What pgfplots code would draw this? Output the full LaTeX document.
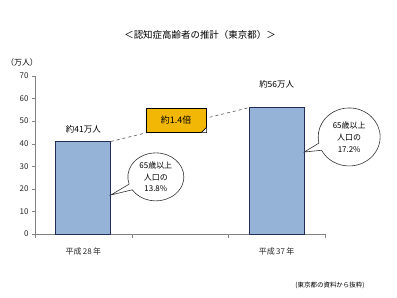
\documentclass[border=0pt]{standalone}
\usepackage{pgfplots}
\pgfplotsset{compat=1.18}
\usepackage{fontspec}
\setmainfont{Noto Sans CJK JP}
\usetikzlibrary{shapes.callouts,shapes.geometric}
\definecolor{barblue}{RGB}{149,179,215}
\definecolor{baredge}{RGB}{35,45,85}
\definecolor{gold}{RGB}{242,183,5}
\definecolor{axgray}{RGB}{130,130,130}
\begin{document}
\begin{tikzpicture}
\path[use as bounding box] (0,0) rectangle (397bp,298bp);
\begin{axis}[at={(35bp,64bp)}, anchor=south west, scale only axis,
  width=290bp, height=158bp,
  xmin=-0.5, xmax=2.5, ymin=0, ymax=70,
  axis x line=bottom, axis y line=left,
  axis line style={-, draw=axgray},
  tick align=outside,
  xtick={0,2}, xticklabels={平成\,28\,年,平成\,37\,年},
  minor xtick={-0.5,0.5,1.5,2.5},
  major x tick style={draw=none},
  minor x tick style={draw=axgray},
  minor tick length=4bp,
  ytick={0,10,...,70},
  major y tick style={draw=axgray},
  major tick length=3bp,
  /pgf/number format/assume math mode=true,
  ticklabel style={font=\fontsize{8}{9}\selectfont, text=black!85},
  xticklabel style={yshift=-7bp},
  clip=false]
\addplot[ybar, bar width=55bp, fill=barblue, draw=baredge, line width=0.7pt] coordinates {(0,41) (2,56)};
\addplot[dashed, draw=black!60, line width=0.7pt, mark=none] coordinates {(0.285,41) (1.715,56)};
\node[font=\fontsize{8.5}{10}\selectfont] at (axis cs:0,46.2) {約41万人};
\node[font=\fontsize{8.5}{10}\selectfont] at (axis cs:2,66.2) {約56万人};
\coordinate (boxc) at (axis cs:0.96,50.5);
\coordinate (p1) at (axis cs:0.285,17.3);
\coordinate (c1) at (axis cs:0.75,25.3);
\coordinate (p2) at (axis cs:2.285,36.3);
\coordinate (c2) at (axis cs:2.75,43);
\end{axis}
\node[name=box, draw=black, line width=0.7pt, fill=gold, minimum width=60bp, minimum height=24bp, inner sep=0pt,
  font=\fontsize{9}{10}\selectfont] at (boxc) {約1.4倍};
\fill[white] (box.south east) ++(-5bp,0) -- ++(5bp,5bp) -- ++(0,-5bp) -- cycle;
\draw[line width=0.7pt] (box.south east) ++(-5bp,0) -- ++(5bp,5bp);
\node[ellipse callout, draw=black!80, fill=white, line width=0.6pt, minimum width=56bp, minimum height=48bp, inner sep=0pt,
  align=center, font=\fontsize{8}{11.5}\selectfont,
  callout absolute pointer={(p1)}] at (c1) {65歳以上\\人口の\\13.8\%};
\node[ellipse callout, draw=black!80, fill=white, line width=0.6pt, minimum width=62bp, minimum height=58bp, inner sep=0pt,
  align=center, font=\fontsize{8}{12}\selectfont,
  callout absolute pointer={(p2)}] at (c2) {65歳以上\\人口の\\17.2\%};
\node[font=\fontsize{9.5}{11}\selectfont] at (200bp,263bp) {＜認知症高齢者の推計（東京都）＞};
\node[font=\fontsize{8}{9}\selectfont] at (22bp,236bp) {（万人）};
\node[font=\fontsize{6.5}{8}\selectfont] at (330bp,13bp) {(東京都の資料から抜粋)};
\end{tikzpicture}
\end{document}
